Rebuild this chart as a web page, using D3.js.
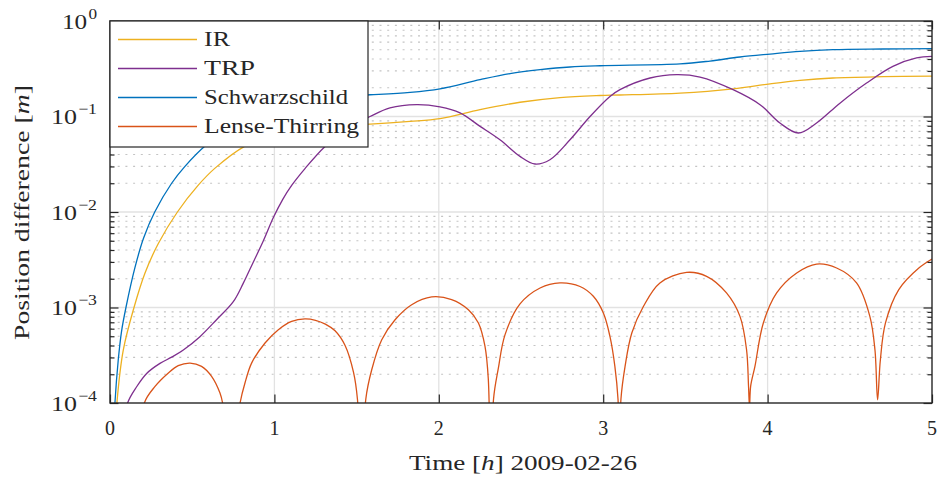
<!DOCTYPE html>
<html><head><meta charset="utf-8">
<script src="https://cdn.jsdelivr.net/npm/d3@7"></script>
<style>
body{margin:0;background:#fff;}
svg{display:block;font-family:"Liberation Serif","Times New Roman",serif;}
</style></head><body>
<svg id="chart" width="940" height="477"></svg>
<script>
// ---------------- data ----------------
const seriesNames = ["IR", "TRP", "Schwarzschild", "Lense-Thirring"];

const irTime  = [0.03,0.042,0.081,0.146,0.213,0.294,0.41,0.537,0.639,0.821,1.0,1.2,1.4,1.582,1.825,2.007,2.251,2.494,2.737,2.981,3.102,3.467,3.79,4.015,4.197,4.398,4.702,5.0];
const irValue = [4e-5,1.0e-4,3.6e-4,1.0e-3,2.3e-3,4.68e-3,1.0e-2,1.91e-2,2.88e-2,4.9e-2,0.0646,0.0759,0.0813,0.0834,0.0887,0.0948,0.118,0.141,0.158,0.166,0.168,0.176,0.195,0.220,0.239,0.253,0.261,0.265];

const trpTime  = [0.08,0.107,0.162,0.223,0.304,0.375,0.446,0.547,0.648,0.75,0.811,0.872,0.933,0.993,1.05,1.105,1.186,1.308,1.45,1.582,1.703,1.865,2.007,2.129,2.251,2.372,2.494,2.585,2.676,2.798,2.92,3.041,3.102,3.285,3.447,3.589,3.79,3.954,4.075,4.187,4.298,4.44,4.602,4.762,4.906,5.0];
const trpValue = [5e-5,1.0e-4,1.48e-4,2.04e-4,2.6e-4,3.02e-4,3.59e-4,4.95e-4,7.45e-4,1.15e-3,1.8e-3,3.0e-3,5.0e-3,8.7e-3,1.35e-2,1.9e-2,2.85e-2,4.86e-2,7.6e-2,0.100,0.123,0.133,0.126,0.109,0.0788,0.0571,0.0382,0.0318,0.0353,0.0571,0.100,0.162,0.191,0.253,0.274,0.259,0.191,0.133,0.0855,0.0672,0.0855,0.138,0.224,0.335,0.410,0.426];

const schTime  = [0.02,0.03,0.05,0.07,0.097,0.152,0.205,0.272,0.375,0.456,0.578,0.75,0.95,1.15,1.35,1.582,1.825,2.007,2.251,2.433,2.616,2.798,2.981,3.467,3.65,3.832,4.015,4.197,4.398,4.702,5.0];
const schValue = [4e-5,1.0e-4,2.8e-4,5.6e-4,1.0e-3,2.63e-3,5.37e-3,1.0e-2,2.0e-2,3.0e-2,4.9e-2,0.0794,0.117,0.148,0.162,0.169,0.179,0.195,0.243,0.281,0.309,0.330,0.340,0.355,0.381,0.420,0.451,0.481,0.501,0.509,0.513];

const ltTime  = [0.18,0.209,0.274,0.355,0.415,0.487,0.557,0.618,0.669,0.685,0.737,0.791,0.821,0.862,0.943,1.024,1.105,1.186,1.25,1.31,1.369,1.43,1.481,1.505,1.531,1.556,1.592,1.653,1.734,1.835,1.957,2.078,2.18,2.241,2.281,2.301,2.318,2.333,2.362,2.403,2.494,2.616,2.737,2.859,2.94,3.001,3.041,3.071,3.09,3.10,3.108,3.133,3.174,3.245,3.345,3.507,3.629,3.75,3.832,3.872,3.884,3.89,3.897,3.923,3.974,4.055,4.177,4.298,4.42,4.541,4.622,4.653,4.669,4.686,4.717,4.798,4.92,5.0];
const ltValue = [3e-5,1.0e-4,1.49e-4,2.06e-4,2.46e-4,2.62e-4,2.42e-4,1.9e-4,1.27e-4,1.0e-4,2e-5,1.0e-4,1.62e-4,2.63e-4,4.25e-4,5.86e-4,7.15e-4,7.6e-4,7.35e-4,6.7e-4,5.7e-4,4.0e-4,2.1e-4,1.1e-4,1e-5,1.1e-4,2.23e-4,4.6e-4,7.45e-4,1.07e-3,1.29e-3,1.21e-3,9.48e-4,6.89e-4,3.92e-4,1.8e-4,1e-5,1.1e-4,2.3e-4,5.2e-4,1.09e-3,1.6e-3,1.81e-3,1.66e-3,1.31e-3,8.75e-4,4.98e-4,2.42e-4,1.1e-4,2e-5,1.1e-4,2.42e-4,5.41e-4,1.03e-3,1.81e-3,2.33e-3,2.12e-3,1.42e-3,8.07e-4,3.61e-4,1.5e-4,9e-5,1.5e-4,2.42e-4,6.89e-4,1.42e-3,2.3e-3,2.85e-3,2.59e-3,1.81e-3,8.07e-4,3.61e-4,1.08e-4,2.84e-4,6.89e-4,1.54e-3,2.59e-3,3.22e-3];

const xTicks = [0, 1, 2, 3, 4, 5];
const yTickExponents = [-4, -3, -2, -1, 0];

// ---------------- styles ----------------
const seriesColors = ["#EDB120", "#7E2F8E", "#0072BD", "#D95319"];
const series = [
  {name: seriesNames[0], t: irTime,  v: irValue},
  {name: seriesNames[1], t: trpTime, v: trpValue},
  {name: seriesNames[2], t: schTime, v: schValue},
  {name: seriesNames[3], t: ltTime,  v: ltValue}
];

const svg = d3.select("#chart");
const L = 110, R = 932, T = 21, B = 403;
const x = d3.scaleLinear().domain([0, 5]).range([L, R]);
const y = d3.scaleLog().domain([1e-4, 1]).range([B, T]);

svg.append("rect").attr("width", 940).attr("height", 477).attr("fill", "#fff");

svg.append("defs").append("clipPath").attr("id", "plotclip")
  .append("rect").attr("x", L).attr("y", T).attr("width", R - L).attr("height", B - T);

const yMajor = yTickExponents.map(e => Math.pow(10, e));
const yMinor = [];
for (let e = -4; e < 0; e++) for (let m = 2; m <= 9; m++) yMinor.push(m * Math.pow(10, e));

const grid = svg.append("g");
grid.selectAll("line.minor").data(yMinor).join("line")
  .attr("x1", L).attr("x2", R)
  .attr("y1", d => y(d)).attr("y2", d => y(d))
  .attr("stroke", "#c4c4c4").attr("stroke-width", 1.2)
  .attr("stroke-dasharray", "2,5.7");
grid.selectAll("line.majy").data(yMajor.slice(1, -1)).join("line")
  .attr("x1", L).attr("x2", R)
  .attr("y1", d => y(d)).attr("y2", d => y(d))
  .attr("stroke", "#e2e2e2").attr("stroke-width", 1.3);
grid.selectAll("line.majx").data(xTicks.slice(1, -1)).join("line")
  .attr("y1", T).attr("y2", B)
  .attr("x1", d => x(d)).attr("x2", d => x(d))
  .attr("stroke", "#e2e2e2").attr("stroke-width", 1.3);

const line = d3.line().x(d => x(d[0])).y(d => y(d[1])).curve(d3.curveCatmullRom.alpha(0.5));
const plot = svg.append("g").attr("clip-path", "url(#plotclip)");
series.forEach((s, i) => {
  plot.append("path")
    .datum(s.t.map((t, k) => [t, s.v[k]]))
    .attr("fill", "none")
    .attr("stroke", seriesColors[i])
    .attr("stroke-width", 1.3)
    .attr("stroke-linejoin", "round")
    .attr("d", line);
});

const axCol = "#262626";
function styleAxis(g) {
  g.select(".domain").remove();
  g.selectAll(".tick line").attr("stroke", axCol).attr("stroke-width", 1.2);
  g.selectAll(".tick text").remove();
}
svg.append("g").attr("transform", `translate(0,${B})`)
  .call(d3.axisBottom(x).tickValues(xTicks).tickSize(-8.5)).call(styleAxis);
svg.append("g").attr("transform", `translate(0,${T})`)
  .call(d3.axisTop(x).tickValues(xTicks).tickSize(-8.5)).call(styleAxis);
svg.append("g").attr("transform", `translate(${L},0)`)
  .call(d3.axisLeft(y).tickValues(yMajor).tickSize(-8.5)).call(styleAxis);
svg.append("g").attr("transform", `translate(${R},0)`)
  .call(d3.axisRight(y).tickValues(yMajor).tickSize(-8.5)).call(styleAxis);
svg.append("g").attr("transform", `translate(${L},0)`)
  .call(d3.axisLeft(y).tickValues(yMinor).tickSize(-4.5)).call(styleAxis);
svg.append("g").attr("transform", `translate(${R},0)`)
  .call(d3.axisRight(y).tickValues(yMinor).tickSize(-4.5)).call(styleAxis);

svg.append("rect").attr("x", L).attr("y", T).attr("width", R - L).attr("height", B - T)
  .attr("fill", "none").attr("stroke", axCol).attr("stroke-width", 1.4);

svg.append("g").selectAll("text").data(xTicks).join("text")
  .attr("x", d => x(d)).attr("y", 435)
  .attr("text-anchor", "middle").attr("font-size", 20).attr("fill", axCol)
  .text(d => d);

const yl = svg.append("g").selectAll("text").data(yTickExponents).join("text")
  .attr("x", 97).attr("y", d => y(Math.pow(10, d)) + 7.5)
  .attr("text-anchor", "end").attr("font-size", 22).attr("fill", axCol)
  .attr("textLength", d => d < 0 ? 46 : 35).attr("lengthAdjust", "spacingAndGlyphs");
yl.append("tspan").text("10");
yl.append("tspan").attr("font-size", 15).attr("dy", -10).attr("dx", 1)
  .text(d => d < 0 ? "\u2212" + (-d) : String(d));

const xl = svg.append("text").attr("x", 523).attr("y", 470)
  .attr("text-anchor", "middle").attr("font-size", 21).attr("fill", axCol)
  .attr("textLength", 228).attr("lengthAdjust", "spacingAndGlyphs");
xl.append("tspan").text("Time [");
xl.append("tspan").attr("font-style", "italic").text("h");
xl.append("tspan").text("] 2009-02-26");

const ylab = svg.append("text")
  .attr("transform", "translate(29,212.5) rotate(-90)")
  .attr("text-anchor", "middle").attr("font-size", 21).attr("fill", axCol)
  .attr("textLength", 255).attr("lengthAdjust", "spacingAndGlyphs");
ylab.append("tspan").text("Position difference [");
ylab.append("tspan").attr("font-style", "italic").text("m");
ylab.append("tspan").text("]");

const lg = svg.append("g");
lg.append("rect").attr("x", L).attr("y", T).attr("width", 258).attr("height", 126)
  .attr("fill", "#fff").attr("stroke", axCol).attr("stroke-width", 1.2);
const legendWidths = [26, 51, 144, 155];
series.forEach((s, i) => {
  const cy = 39.5 + i * 29;
  lg.append("line").attr("x1", 118).attr("x2", 197).attr("y1", cy).attr("y2", cy)
    .attr("stroke", seriesColors[i]).attr("stroke-width", 1.3);
  lg.append("text").attr("x", 204).attr("y", cy + 6.5)
    .attr("font-size", 20).attr("fill", axCol)
    .attr("textLength", legendWidths[i]).attr("lengthAdjust", "spacingAndGlyphs")
    .text(s.name);
});
</script>
</body></html>
